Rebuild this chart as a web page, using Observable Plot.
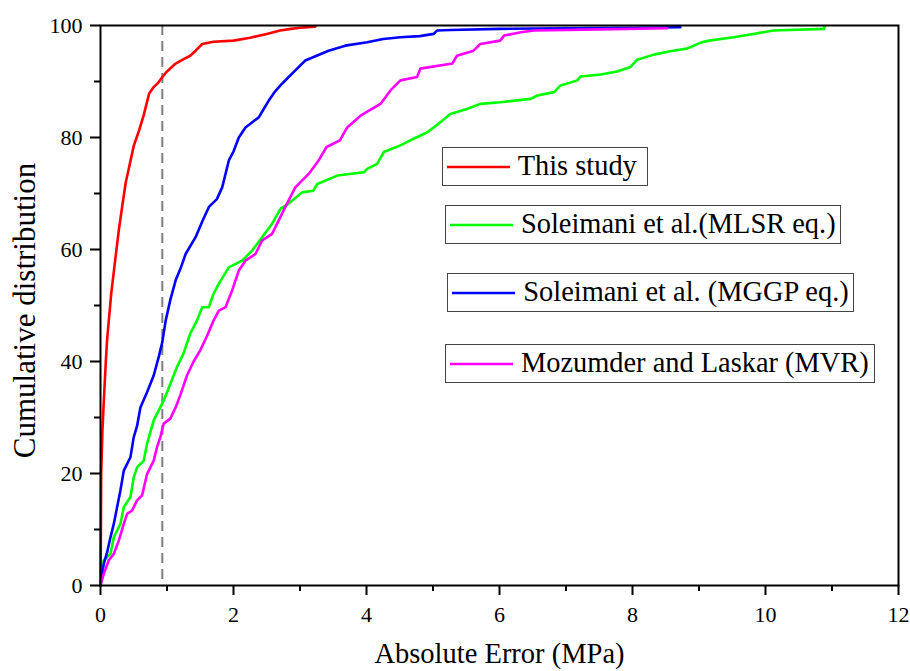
<!DOCTYPE html>
<html>
<head>
<meta charset="utf-8">
<script src="https://cdn.jsdelivr.net/npm/d3@7"></script>
<script src="https://cdn.jsdelivr.net/npm/@observablehq/plot@0.6"></script>
<style>
  html, body { margin: 0; padding: 0; background: #fff; }
  #wrap { position: relative; width: 910px; height: 671px; font-family: "Liberation Serif", "Times New Roman", serif; }
  .lg { position: absolute; box-sizing: border-box; border: 1.3px solid #444; background: #fff; height: 39px; }
  .lg svg { position: absolute; left: 4px; top: 0; }
  .lg span { position: absolute; top: 50%; transform: translateY(-52%); font-size: 28.4px; color: #000; white-space: nowrap; }
</style>
</head>
<body>
<div id="wrap"></div>
<script>
// ---- Data ----
const seriesNames = ["This study", "Soleimani et al.(MLSR eq.)", "Soleimani et al. (MGGP eq.)", "Mozumder and Laskar (MVR)"];
const seriesColors = ["#ff0000", "#00ff00", "#0000ff", "#ff00ff"];

const thisX = [0,0.005,0.01,0.03,0.05,0.08,0.1,0.125,0.16,0.2,0.24,0.275,0.33,0.38,0.43,0.5,0.58,0.65,0.73,0.8,0.87,0.93,1.0,1.13,1.25,1.35,1.43,1.53,1.7,2.0,2.25,2.5,2.7,2.86,3.0,3.23];
const thisY = [0,8,20,28,33,40,44,47.3,52,56,60,63.4,68,72,74.7,78.5,81.25,84,87.8,89,89.8,90.8,91.8,93.2,94,94.6,95.5,96.7,97.1,97.3,97.8,98.5,99.1,99.4,99.6,99.8];

const mlsrX = [0,0.05,0.15,0.2,0.3,0.35,0.45,0.5,0.55,0.65,0.7,0.8,0.95,1.05,1.15,1.25,1.35,1.45,1.53,1.63,1.7,1.78,1.93,2.13,2.28,2.43,2.58,2.71,2.83,3.03,3.2,3.26,3.56,3.96,4.01,4.16,4.26,4.51,4.66,4.91,5.11,5.26,5.51,5.71,6.01,6.47,6.57,6.82,6.92,7.17,7.22,7.52,7.77,7.97,8.07,8.32,8.57,8.82,9.02,9.15,9.52,9.77,10.12,10.88,10.89];
const mlsrY = [0,4.5,5.65,8.6,11,14,15.8,19.3,21.1,22.3,25.3,29.5,33,36,39,41.5,45,47.3,49.7,49.7,52.1,53.9,56.8,58,59.8,62.2,64.6,67.3,68.2,70.2,70.5,71.7,73.2,73.8,74.4,75.3,77.4,78.6,79.5,80.9,82.7,84.2,85.1,86,86.3,86.9,87.5,88.1,89.3,90.2,90.9,91.25,91.8,92.6,93.9,94.8,95.4,95.9,96.9,97.3,97.9,98.4,99.1,99.4,99.8];

const mggpX = [0,0.02,0.05,0.1,0.15,0.2,0.25,0.3,0.35,0.45,0.5,0.55,0.6,0.7,0.8,0.88,0.93,0.98,1.05,1.13,1.2,1.28,1.43,1.53,1.63,1.75,1.83,1.93,2.0,2.08,2.18,2.38,2.45,2.53,2.63,2.73,2.83,2.93,3.08,3.25,3.43,3.68,4.01,4.25,4.51,4.8,5.01,5.06,5.26,6.0,7.0,8.0,8.72];
const mggpY = [0,2,3.9,5.95,8.6,11,14,17,20.5,22.9,26.5,28.5,31.8,34.5,37.5,41,43.5,47.3,51,54.5,56.5,59.2,62.2,65,67.6,69,71.1,75.9,77.5,80,81.8,83.6,85,86.6,88.3,89.6,90.8,92,93.75,94.6,95.5,96.4,97,97.6,97.9,98.1,98.5,99.1,99.2,99.4,99.5,99.6,99.7];

const mvrX = [0,0.05,0.125,0.2,0.275,0.35,0.4,0.475,0.55,0.625,0.7,0.8,0.85,0.9,0.95,1.05,1.13,1.2,1.3,1.4,1.5,1.6,1.7,1.78,1.88,1.98,2.08,2.18,2.33,2.43,2.58,2.68,2.78,2.93,3.13,3.28,3.4,3.6,3.71,3.91,4.21,4.36,4.51,4.76,4.81,5.29,5.36,5.61,5.71,6.01,6.07,6.32,6.52,7.5,8.52];
const mvrY = [0,2.1,4.5,5.65,8,11,12.8,13.4,15.2,16.1,19.9,22.3,24.7,26.5,28.9,29.8,31.8,34,37.5,40,42,44.5,47.3,49.1,49.7,52.7,56.25,58,59.2,61.6,62.8,65.2,67.6,71.1,73.5,75.9,78.3,79.5,81.8,83.9,86,88.4,90.2,90.8,92.3,93.2,94.6,95.5,96.7,97.3,98.2,98.8,99.1,99.3,99.5];

const thresholdX = [0.93];
const xMajor = [0, 2, 4, 6, 8, 10, 12];
const xMinor = [1, 3, 5, 7, 9, 11];
const yMajor = [0, 20, 40, 60, 80, 100];
const yMinor = [10, 30, 50, 70, 90];
const xTitle = "Absolute Error (MPa)";
const yTitle = "Cumulative distribution";

// ---- Build table ----
const seriesXY = [[thisX, thisY], [mlsrX, mlsrY], [mggpX, mggpY], [mvrX, mvrY]];
const rows = [];
seriesXY.forEach(([xs, ys], i) => xs.forEach((x, j) => rows.push({series: seriesNames[i], x, y: ys[j]})));
const font = "Liberation Serif";

const chart = Plot.plot({
  width: 910,
  height: 671,
  marginLeft: 100,
  marginRight: 12,
  marginTop: 25,
  marginBottom: 86,
  style: { fontFamily: font, background: "#fff", color: "#000" },
  x: { domain: [0, 12] },
  y: { domain: [0, 100] },
  color: { domain: seriesNames, range: seriesColors },
  marks: [
    Plot.ruleX(thresholdX, { stroke: "#808080", strokeWidth: 2, strokeDasharray: "10,6" }),
    Plot.line(rows, { x: "x", y: "y", z: "series", stroke: "series", strokeWidth: 2.6, strokeLinejoin: "round" }),
    Plot.axisX({ ticks: xMajor, tickSize: 10, tickPadding: 11, tickFormat: d => String(d), fontSize: 22, strokeWidth: 2, label: null }),
    Plot.axisX({ ticks: xMinor, tickSize: 6, tickFormat: () => "", strokeWidth: 2, label: null }),
    Plot.axisY({ ticks: yMajor, tickSize: 10, tickPadding: 8, tickFormat: d => String(d), fontSize: 22, strokeWidth: 2, label: null }),
    Plot.axisY({ ticks: yMinor, tickSize: 6, tickFormat: () => "", strokeWidth: 2, label: null }),
    Plot.frame({ stroke: "#000", strokeWidth: 2 }),
    Plot.text([xTitle], { frameAnchor: "bottom", dy: 77, fontSize: 28.5, lineAnchor: "bottom", fill: "#000" }),
    Plot.text([yTitle], { frameAnchor: "left", dx: -75, dy: 5, rotate: -90, fontSize: 31, textAnchor: "middle", lineAnchor: "middle", fill: "#000" })
  ]
});

const wrap = document.getElementById("wrap");
wrap.appendChild(chart);

// ---- Legend boxes (overlay) ----
const legendBoxes = [
  { left: 441.7, top: 147.3, width: 206 },
  { left: 445, top: 205, width: 396 },
  { left: 447.3, top: 273.3, width: 407 },
  { left: 445, top: 344, width: 429.5 }
];
seriesNames.forEach((name, i) => {
  const b = legendBoxes[i];
  const d = document.createElement("div");
  d.className = "lg";
  d.style.left = b.left + "px";
  d.style.top = b.top + "px";
  d.style.width = b.width + "px";
  d.innerHTML = `<svg width="66" height="37"><line x1="0" x2="63" y1="19" y2="19" stroke="${seriesColors[i]}" stroke-width="2.6"/></svg><span style="left:75px">${name}</span>`;
  wrap.appendChild(d);
});
</script>
</body>
</html>
